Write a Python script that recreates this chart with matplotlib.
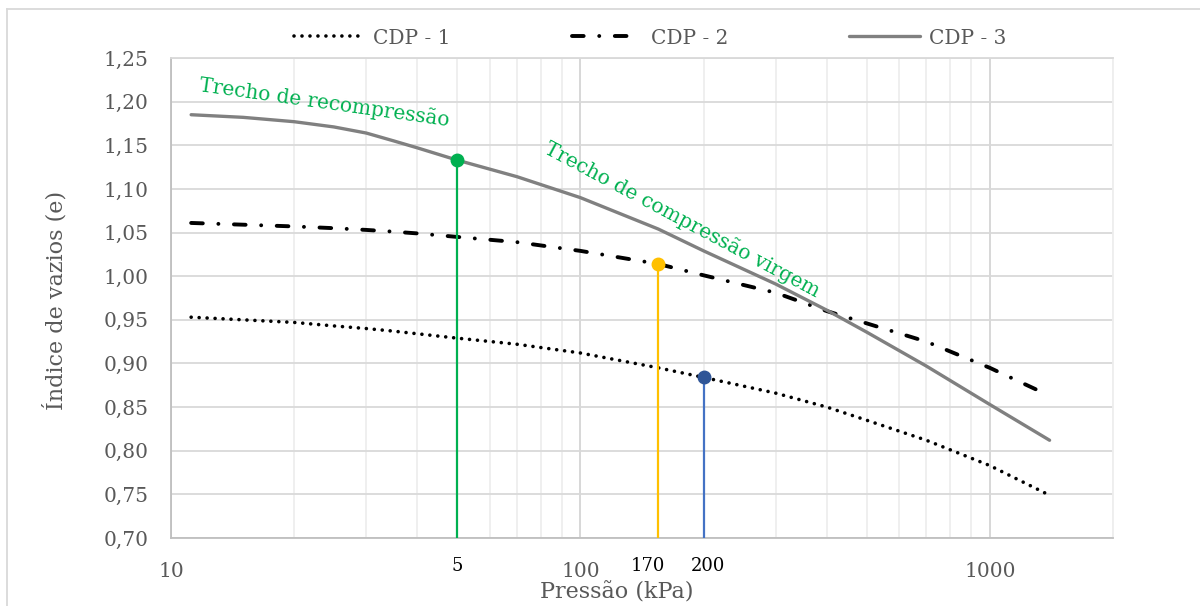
import matplotlib
matplotlib.use("Agg")
import matplotlib.pyplot as plt
from matplotlib.ticker import FixedLocator, NullFormatter, FuncFormatter
from matplotlib.lines import Line2D

# ---- data ----
pressure = [11.2, 15, 20, 25, 30, 35, 40, 50, 70, 100, 155, 200, 300, 400, 500, 700, 1000, 1400]
cdp1 = [0.953, 0.950, 0.947, 0.943, 0.940, 0.937, 0.934, 0.929, 0.922, 0.912, 0.895, 0.884, 0.866, 0.850, 0.835, 0.812, 0.783, 0.749]
cdp2 = [1.061, 1.059, 1.057, 1.055, 1.053, 1.051, 1.049, 1.045, 1.039, 1.029, 1.014, 1.001, 0.981, 0.960, 0.946, 0.925, 0.895, 0.863]
cdp3 = [1.185, 1.182, 1.177, 1.171, 1.164, 1.155, 1.147, 1.133, 1.114, 1.090, 1.054, 1.029, 0.991, 0.961, 0.936, 0.897, 0.853, 0.812]
series_names = ["CDP - 1", "CDP - 2", "CDP - 3"]

marker_x = [50, 155, 200]
marker_e = [1.133, 1.014, 0.884]
marker_labels = ["5", "170", "200"]

xticks = [10, 100, 1000]
yticks = [0.70, 0.75, 0.80, 0.85, 0.90, 0.95, 1.00, 1.05, 1.10, 1.15, 1.20, 1.25]

FONT = "DejaVu Serif"
GRAYTXT = "#595959"

fig = plt.figure(figsize=(12, 6.06), dpi=100)
ax = fig.add_axes([171/1200, 1-538/606, (1113-171)/1200, (538-58)/606])

ax.set_xscale("log")
ax.set_xlim(10, 2000)
ax.set_ylim(0.70, 1.25)

# grid
ax.xaxis.set_major_locator(FixedLocator(xticks))
minors = [m * d for d in (10, 100, 1000) for m in range(2, 10)] + [2000]
ax.xaxis.set_minor_locator(FixedLocator(minors))
ax.xaxis.set_major_formatter(FuncFormatter(lambda v, p: f"{int(v)}"))
ax.xaxis.set_minor_formatter(NullFormatter())
ax.yaxis.set_major_locator(FixedLocator(yticks))
ax.yaxis.set_major_formatter(FuncFormatter(lambda v, p: f"{v:.2f}".replace(".", ",")))
ax.grid(True, which="major", axis="x", color="#d4d4d4", lw=1.3, zorder=0)
ax.grid(True, which="minor", axis="x", color="#eeeeee", lw=1.3, zorder=0)
ax.grid(True, which="major", axis="y", color="#d9d9d9", lw=1.3, zorder=0)
ax.set_axisbelow(True)
ax.tick_params(which="both", length=0)
ax.tick_params(axis="x", pad=17, labelsize=14.5, labelcolor=GRAYTXT)
ax.tick_params(axis="y", pad=16, labelsize=14.5, labelcolor=GRAYTXT)
for lab in ax.get_xticklabels() + ax.get_yticklabels():
    lab.set_fontfamily(FONT)

for s in ("left", "bottom"):
    ax.spines[s].set_color("#bfbfbf")
    ax.spines[s].set_linewidth(1.3)
ax.spines["top"].set_color("#d9d9d9")
ax.spines["top"].set_linewidth(1.3)
ax.spines["right"].set_color("#eeeeee")
ax.spines["right"].set_linewidth(1.3)

# series
l1, = ax.plot(pressure, cdp1, color="black", lw=2.6, linestyle=(0, (0.01, 2.2)),
              dash_capstyle="round", solid_capstyle="round", zorder=3)
l2, = ax.plot(pressure, cdp2, color="black", lw=2.8, linestyle=(0, (3.0, 4.0, 0.01, 4.0)),
              dash_capstyle="round", zorder=3)
l3, = ax.plot(pressure, cdp3, color="#808080", lw=2.4, solid_capstyle="round", zorder=3)

# vertical markers
mcolors_line = ["#00b050", "#ffc000", "#4472c4"]
mcolors_dot = ["#00b050", "#ffc000", "#2f5597"]
for x, e, cl, cd in zip(marker_x, marker_e, mcolors_line, mcolors_dot):
    ax.vlines(x, 0.70, e, colors=cl, lw=1.6, zorder=4)
    ax.plot([x], [e], marker="o", ms=9, color=cd, mec=cd, zorder=5)
for x, lab, dx in zip(marker_x, marker_labels, [0, -10, 4]):
    ax.annotate(lab, xy=(x, 0), xycoords=("data", "axes fraction"), xytext=(dx, -28),
                textcoords="offset pixels", ha="center", va="center",
                fontsize=13, color="black", family=FONT, annotation_clip=False)

# annotations
ax.text(11.7, 1.212, "Trecho de recompressão", rotation=-8, rotation_mode="anchor",
        ha="left", va="baseline", color="#00b050", fontsize=14.5, family=FONT, zorder=6)
ax.text(80.8, 1.142, "Trecho de compressão virgem", rotation=-28, rotation_mode="anchor",
        ha="left", va="baseline", color="#00b050", fontsize=14.5, family=FONT, zorder=6)

# axis titles
fig.text(55/1200, 1-300/606, "Índice de vazios (e)", rotation=90, ha="center", va="center",
         fontsize=16, color=GRAYTXT, family=FONT)
fig.text(617/1200, 1-592/606, "Pressão (kPa)", ha="center", va="center",
         fontsize=16, color=GRAYTXT, family=FONT)

# legend
leg = fig.legend([l1, l2, l3], series_names, loc="center", bbox_to_anchor=(650/1200, 1-38/606),
                 ncol=3, frameon=False, handlelength=3.5, handletextpad=0.45, columnspacing=6.0,
                 prop={"family": FONT, "size": 14.5})
for t in leg.get_texts():
    t.set_color(GRAYTXT)

# chart outer border (cropped)
fig.add_artist(Line2D([7/1200, 1], [1-9/606, 1-9/606], color="#d9d9d9", lw=1.3, transform=fig.transFigure))
fig.add_artist(Line2D([7/1200, 7/1200], [0, 1-9/606], color="#d9d9d9", lw=1.3, transform=fig.transFigure))

fig.savefig("out.png", dpi=100)
